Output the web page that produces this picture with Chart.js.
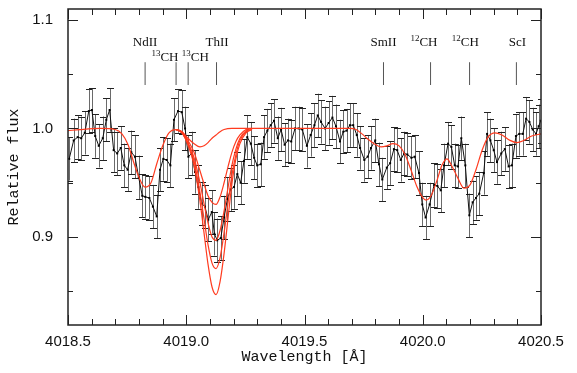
<!DOCTYPE html>
<html>
<head>
<meta charset="utf-8">
<script src="https://cdn.jsdelivr.net/npm/chart.js@4.4.1/dist/chart.umd.min.js"></script>
<style>
  html, body { margin: 0; padding: 0; background: #fff; }
</style>
</head>
<body>
<canvas id="chart" width="577" height="373"></canvas>
<script>
// observed spectrum (wavelength in A, relative flux)
const obsWave = [4018.505, 4018.524, 4018.541, 4018.556, 4018.571, 4018.588, 4018.601, 4018.615, 4018.630, 4018.647,
  4018.662, 4018.676, 4018.693, 4018.708, 4018.723, 4018.738, 4018.752, 4018.768, 4018.783, 4018.799,
  4018.814, 4018.827, 4018.844, 4018.859, 4018.875, 4018.889, 4018.903, 4018.917, 4018.933, 4018.948,
  4018.965, 4018.981, 4018.995, 4019.009, 4019.023, 4019.037, 4019.051, 4019.065, 4019.079, 4019.093,
  4019.108, 4019.119, 4019.131, 4019.146, 4019.160, 4019.174, 4019.188, 4019.202, 4019.216, 4019.230,
  4019.244, 4019.258, 4019.273, 4019.287, 4019.300, 4019.315, 4019.329, 4019.343, 4019.357, 4019.371,
  4019.387, 4019.401, 4019.416, 4019.430, 4019.444, 4019.460, 4019.475, 4019.491, 4019.510, 4019.526,
  4019.542, 4019.556, 4019.570, 4019.587, 4019.602, 4019.618, 4019.633, 4019.650, 4019.664, 4019.678,
  4019.692, 4019.706, 4019.721, 4019.735, 4019.753, 4019.767, 4019.781, 4019.799, 4019.815, 4019.829,
  4019.848, 4019.862, 4019.878, 4019.892, 4019.907, 4019.921, 4019.935, 4019.952, 4019.966, 4019.984,
  4019.998, 4020.012, 4020.029, 4020.048, 4020.062, 4020.076, 4020.090, 4020.107, 4020.121, 4020.135,
  4020.149, 4020.163, 4020.180, 4020.197, 4020.211, 4020.225, 4020.239, 4020.258, 4020.272, 4020.286,
  4020.300, 4020.314, 4020.332, 4020.347, 4020.363, 4020.377, 4020.394, 4020.408, 4020.423, 4020.437,
  4020.451, 4020.465, 4020.479, 4020.490, 4020.499];
const obsFlux = [0.972, 0.989, 0.992, 0.991, 0.996, 1.016, 1.017, 0.993, 0.984, 0.991,
  1.008, 1.017, 0.980, 0.977, 0.982, 0.966, 0.962, 0.978, 0.974, 0.955,
  0.938, 0.937, 0.936, 0.928, 0.919, 0.962, 0.972, 0.971, 0.966, 1.008,
  1.016, 1.015, 1.000, 0.974, 0.977, 0.960, 0.946, 0.931, 0.928, 0.916,
  0.923, 0.903, 0.897, 0.899, 0.918, 0.935, 0.944, 0.946, 0.958, 0.950,
  0.970, 0.992, 0.986, 0.973, 0.966, 0.967, 0.992, 0.998, 1.003, 1.007,
  0.991, 0.999, 0.985, 0.989, 0.988, 1.000, 1.000, 0.999, 0.984, 0.994,
  1.003, 1.012, 1.006, 1.000, 1.005, 1.010, 1.002, 0.988, 0.997, 0.998,
  1.003, 1.003, 0.994, 0.982, 0.971, 0.974, 0.982, 0.989, 0.967, 0.953,
  0.964, 0.968, 0.981, 0.980, 0.971, 0.977, 0.976, 0.973, 0.974, 0.959,
  0.930, 0.918, 0.930, 0.948, 0.947, 0.943, 0.966, 0.986, 0.983, 0.966,
  0.965, 0.991, 0.966, 0.920, 0.932, 0.936, 0.940, 0.959, 0.995, 0.989,
  0.980, 0.969, 0.977, 0.981, 0.965, 0.966, 0.993, 0.995, 0.995, 1.009,
  1.006, 0.999, 0.995, 1.002, 1.007];
const obsErr = 0.02; // error bars look the same size everywhere

// synthetic spectrum without Th
const synWave = [4018.500, 4018.551, 4018.635, 4018.699, 4018.728, 4018.754, 4018.779, 4018.800, 4018.826, 4018.851,
  4018.876, 4018.902, 4018.927, 4018.957, 4018.982, 4019.007, 4019.033, 4019.058, 4019.075, 4019.092,
  4019.109, 4019.126, 4019.143, 4019.160, 4019.193, 4019.312, 4019.481, 4019.692, 4019.718, 4019.743,
  4019.769, 4019.794, 4019.823, 4019.849, 4019.874, 4019.900, 4019.925, 4019.950, 4019.976, 4020.001,
  4020.014, 4020.035, 4020.060, 4020.081, 4020.102, 4020.124, 4020.149, 4020.174, 4020.200, 4020.225,
  4020.251, 4020.276, 4020.305, 4020.335, 4020.369, 4020.398, 4020.428, 4020.461, 4020.500];
const synFlux = [0.998, 0.999, 1.000, 0.999, 0.995, 0.985, 0.968, 0.955, 0.946, 0.950,
  0.968, 0.985, 0.996, 0.999, 0.997, 0.991, 0.986, 0.983, 0.984, 0.987,
  0.991, 0.994, 0.997, 0.999, 1.000, 1.000, 1.000, 1.000, 0.999, 0.995,
  0.990, 0.986, 0.983, 0.984, 0.986, 0.984, 0.976, 0.962, 0.946, 0.936,
  0.934, 0.938, 0.952, 0.966, 0.972, 0.965, 0.954, 0.945, 0.948, 0.962,
  0.980, 0.992, 0.996, 0.994, 0.989, 0.987, 0.989, 0.993, 0.995];

// synthetic spectra with increasing Th abundance (only where they differ)
const thWave = [4018.957, 4018.982, 4019.007, 4019.033, 4019.058, 4019.075, 4019.092, 4019.109, 4019.126,
  4019.143, 4019.160, 4019.177, 4019.193, 4019.210, 4019.227, 4019.253, 4019.278];
const thFlux1 = [0.999, 0.997, 0.989, 0.978, 0.961, 0.949, 0.938, 0.932, 0.930, 0.937, 0.950, 0.965, 0.978, 0.988, 0.994, 0.999, 1.000];
const thFlux2 = [0.999, 0.996, 0.987, 0.973, 0.950, 0.931, 0.913, 0.900, 0.897, 0.906, 0.924, 0.946, 0.966, 0.981, 0.991, 0.998, 1.000];
const thFlux3 = [0.999, 0.996, 0.986, 0.970, 0.941, 0.917, 0.893, 0.876, 0.871, 0.881, 0.904, 0.932, 0.957, 0.976, 0.989, 0.997, 0.999];
const thFlux4 = [0.999, 0.996, 0.985, 0.966, 0.933, 0.904, 0.875, 0.854, 0.847, 0.859, 0.885, 0.918, 0.949, 0.972, 0.986, 0.996, 0.999];

// line identifications
const lineWave = [4018.826, 4018.957, 4019.008, 4019.128, 4019.834, 4020.033, 4020.198, 4020.396];
const lineName = ['NdII', '13CH', '13CH', 'ThII', 'SmII', '12CH', '12CH', 'ScI'];
const labelWave = [4018.826, 4018.910, 4019.038, 4019.130, 4019.834, 4020.005, 4020.180, 4020.400];
const labelFlux = [1.079, 1.065, 1.065, 1.079, 1.079, 1.079, 1.079, 1.079];
const markLow = 1.040, markHigh = 1.061;

const xTicks = [4018.5, 4019.0, 4019.5, 4020.0, 4020.5];
const yTicks = [0.9, 1.0, 1.1];

const RED = '#ff3b1f';
const serif = '"Liberation Serif", "Times New Roman", serif';
const mono = '"Liberation Mono", "Courier New", monospace';
const sans = '"Liberation Sans", Arial, sans-serif';

const toXY = (xs, ys) => xs.map((x, i) => ({x, y: ys[i]}));

const markData = [];
lineWave.forEach(w => {
    markData.push({x: w, y: markLow}, {x: w, y: markHigh}, {x: w, y: null});
});

function redLine(data) {
    return {
        data, borderColor: RED, borderWidth: 1.2, pointRadius: 0,
        cubicInterpolationMode: 'monotone', order: 1
    };
}

// chart.js reserves room for end labels; the frame here is fixed instead
function fixBox(s, size) {
    if (s.isHorizontal()) s.height = size; else s.width = size;
    s.paddingTop = s.paddingBottom = s.paddingLeft = s.paddingRight = 0;
}

function drawSupLabel(ctx, text, cx, cy) {
    const m = text.match(/^(\d+)(.*)$/);
    ctx.fillStyle = '#111';
    ctx.textBaseline = 'middle';
    if (!m) {
        ctx.font = '13px ' + serif;
        ctx.textAlign = 'center';
        ctx.fillText(text, cx, cy);
        return;
    }
    ctx.font = '9px ' + serif;
    const w1 = ctx.measureText(m[1]).width;
    ctx.font = '13px ' + serif;
    const w2 = ctx.measureText(m[2]).width;
    const x0 = cx - (w1 + w2) / 2;
    ctx.textAlign = 'left';
    ctx.font = '9px ' + serif;
    ctx.fillText(m[1], x0, cy - 4);
    ctx.font = '13px ' + serif;
    ctx.fillText(m[2], x0 + w1, cy);
}

const framePlugin = {
    id: 'frame',
    beforeDatasetsDraw(chart) {
        const {ctx, chartArea: a, scales: {x, y}} = chart;
        ctx.save();
        ctx.beginPath();
        ctx.rect(a.left, a.top, a.right - a.left, a.bottom - a.top);
        ctx.clip();
        ctx.lineWidth = 1;
        obsWave.forEach((w, i) => {
            const px = Math.round(x.getPixelForValue(w)) + 0.5;
            const top = y.getPixelForValue(obsFlux[i] + obsErr);
            const bot = y.getPixelForValue(obsFlux[i] - obsErr);
            ctx.strokeStyle = '#6a6a6a';
            ctx.beginPath();
            ctx.moveTo(px, top);
            ctx.lineTo(px, bot);
            ctx.stroke();
            ctx.strokeStyle = '#222';
            ctx.beginPath();
            ctx.moveTo(px - 3.5, Math.round(top) + 0.5);
            ctx.lineTo(px + 3.5, Math.round(top) + 0.5);
            ctx.moveTo(px - 3.5, Math.round(bot) + 0.5);
            ctx.lineTo(px + 3.5, Math.round(bot) + 0.5);
            ctx.stroke();
        });
        ctx.restore();
    },
    afterDatasetsDraw(chart) {
        const {ctx, scales: {x, y}} = chart;
        ctx.save();
        lineName.forEach((name, i) => {
            drawSupLabel(ctx, name, x.getPixelForValue(labelWave[i]), y.getPixelForValue(labelFlux[i]));
        });
        ctx.restore();
    },
    afterDraw(chart) {
        const {ctx, chartArea: a, scales: {x, y}} = chart;
        ctx.save();
        ctx.strokeStyle = '#222';
        ctx.lineWidth = 1.5;
        ctx.strokeRect(a.left, a.top, a.right - a.left, a.bottom - a.top);
        ctx.lineWidth = 1;
        ctx.beginPath();
        for (let k = 0; k <= 20; k++) {
            const px = Math.round(x.getPixelForValue(4018.5 + k * 0.1)) + 0.5;
            const len = k % 5 === 0 ? 10 : 6;
            ctx.moveTo(px, a.bottom); ctx.lineTo(px, a.bottom - len);
            ctx.moveTo(px, a.top); ctx.lineTo(px, a.top + len);
        }
        for (let k = 0; k <= 5; k++) {
            const v = 0.85 + k * 0.05;
            const py = Math.round(y.getPixelForValue(v)) + 0.5;
            const len = k % 2 === 1 ? 10 : 5;
            ctx.moveTo(a.left, py); ctx.lineTo(a.left + len, py);
            ctx.moveTo(a.right, py); ctx.lineTo(a.right - len, py);
        }
        ctx.stroke();
        ctx.restore();
    }
};

new Chart(document.getElementById('chart'), {
    type: 'line',
    data: {
        datasets: [
            redLine(toXY(synWave, synFlux)),
            redLine(toXY(thWave, thFlux1)),
            redLine(toXY(thWave, thFlux2)),
            redLine(toXY(thWave, thFlux3)),
            redLine(toXY(thWave, thFlux4)),
            {
                data: toXY(obsWave, obsFlux), borderColor: '#111', borderWidth: 1,
                pointStyle: 'rect', pointRadius: 1.4, pointBackgroundColor: '#000',
                pointBorderWidth: 0, tension: 0, order: 2
            },
            {
                data: markData, borderColor: '#555', borderWidth: 1, pointRadius: 0,
                spanGaps: false, order: 3
            }
        ]
    },
    options: {
        responsive: false,
        animation: false,
        devicePixelRatio: 1,
        layout: {padding: {top: 9, right: 36, left: 0, bottom: 0}},
        plugins: {legend: {display: false}, tooltip: {enabled: false}},
        scales: {
            x: {
                type: 'linear', min: 4018.5, max: 4020.5,
                afterBuildTicks: s => { s.ticks = xTicks.map(v => ({value: v})); },
                afterFit: s => fixBox(s, 48),
                grid: {display: false, drawTicks: false, tickLength: 0},
                border: {display: false},
                ticks: {
                    callback: v => v.toFixed(1), color: '#111', padding: 8,
                    maxRotation: 0, autoSkip: false, font: {family: sans, size: 15}
                },
                title: {
                    display: true, text: 'Wavelength [Å]', color: '#111',
                    font: {family: mono, size: 15}, padding: {top: 0, bottom: 7}
                }
            },
            y: {
                type: 'linear', min: 0.819, max: 1.110,
                afterBuildTicks: s => { s.ticks = yTicks.map(v => ({value: v})); },
                afterFit: s => fixBox(s, 68),
                grid: {display: false, drawTicks: false, tickLength: 0},
                border: {display: false},
                ticks: {
                    callback: v => v.toFixed(1), color: '#111', padding: 15,
                    font: {family: sans, size: 15}
                },
                title: {
                    display: true, text: 'Relative flux', color: '#111',
                    font: {family: mono, size: 15}, padding: {top: 5, bottom: 0}
                }
            }
        }
    },
    plugins: [framePlugin]
});
</script>
</body>
</html>
